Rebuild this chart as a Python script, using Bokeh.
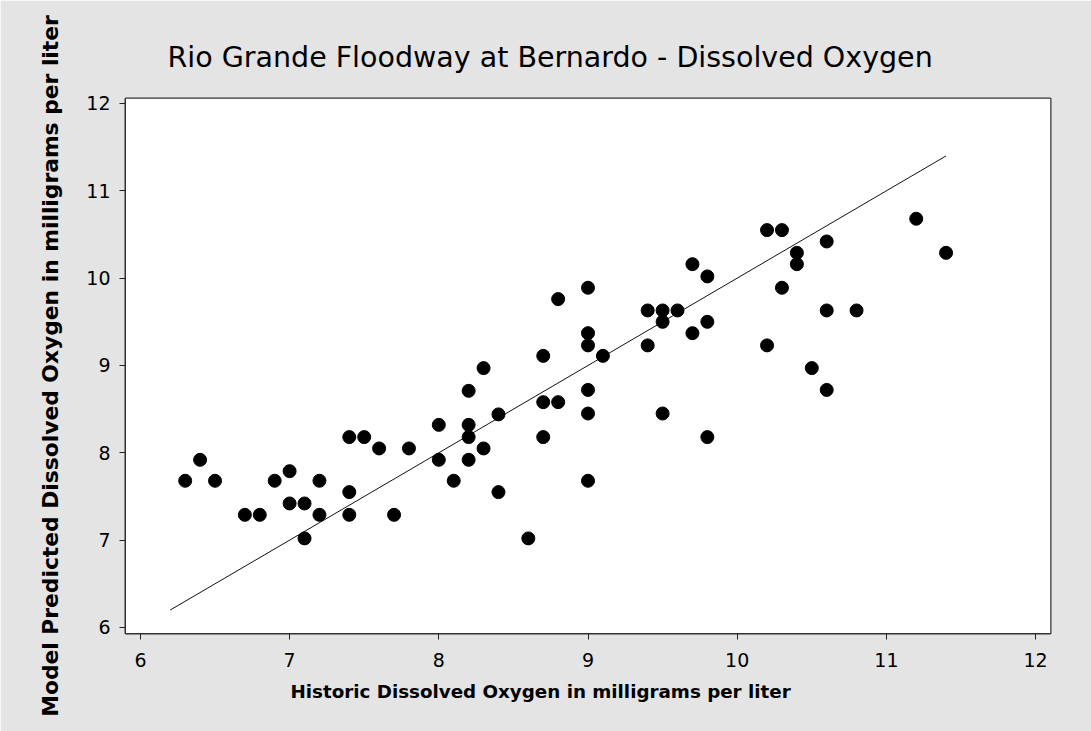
from bokeh.plotting import figure
from bokeh.models import BoxAnnotation, Range1d, FixedTicker, Title
from bokeh.embed import file_html
from bokeh.resources import INLINE

# Data
historic = [6.3, 6.4, 6.5, 6.7, 6.8, 6.9, 7.0, 7.0, 7.1, 7.1, 7.2, 7.2,
            7.4, 7.5, 7.4, 7.4, 7.6, 7.7, 7.8, 8.0, 8.0, 8.1,
            8.2, 8.2, 8.2, 8.2, 8.3, 8.4, 8.4, 8.6, 8.7, 8.7, 8.8,
            8.8, 8.7, 8.3,
            9.0, 9.0, 9.0, 9.1, 9.0, 9.4, 9.5, 9.6, 9.5, 9.4,
            9.7, 9.8, 9.7, 9.8, 10.2, 10.3, 10.4, 10.4, 10.3,
            10.6, 10.6, 10.8, 10.2, 10.5, 10.6, 11.2, 11.4,
            9.0, 9.5, 9.8, 9.0]
predicted = [7.68, 7.92, 7.68, 7.29, 7.29, 7.68, 7.79, 7.42, 7.42, 7.02, 7.68, 7.29,
             8.18, 8.18, 7.55, 7.29, 8.05, 7.29, 8.05, 8.32, 7.92, 7.68,
             8.71, 8.32, 8.18, 7.92, 8.05, 8.44, 7.55, 7.02, 8.58, 8.18, 8.58,
             9.76, 9.11, 8.97,
             9.89, 9.37, 9.23, 9.11, 8.72, 9.63, 9.63, 9.63, 9.50, 9.23,
             10.16, 10.02, 9.37, 9.50, 10.55, 10.55, 10.29, 10.16, 9.89,
             10.42, 9.63, 9.63, 9.23, 8.97, 8.72, 10.68, 10.29,
             8.45, 8.45, 8.18, 7.68]
line_x = [6.2, 11.4]
line_y = [6.2, 11.4]
ticks = [6, 7, 8, 9, 10, 11, 12]

FONT = "DejaVu Sans"

p = figure(width=1091, height=731, output_backend="svg", toolbar_location=None,
           x_range=Range1d(5.9, 12.1), y_range=Range1d(5.931, 12.057),
           min_border_left=125, min_border_right=41, min_border_top=98,
           min_border_bottom=98)

# light grey background outside the plot area (approximates the dotted texture)
p.border_fill_color = "#e4e4e4"
fr = BoxAnnotation(left=5.9, right=12.1, bottom=5.931, top=12.057,
                   fill_color="white", fill_alpha=1.0, line_alpha=0,
                   level="underlay")
p.add_layout(fr)

p.background_fill_color = "white"
p.outline_line_color = "#333333"
p.outline_line_width = 2
p.grid.visible = False

title = Title(text="Rio Grande Floodway at Bernardo - Dissolved Oxygen",
              align="left", offset=42, standoff=50,
              text_font=FONT, text_font_size="28.5px",
              text_font_style="normal", text_color="black")
p.add_layout(title, "above")

for ax in (p.xaxis[0], p.yaxis[0]):
    ax.ticker = FixedTicker(ticks=ticks)
    ax.minor_tick_line_color = None
    ax.major_tick_in = 0
    ax.major_tick_out = 6
    ax.major_tick_line_color = "#222222"
    ax.axis_line_color = "#333333"
    ax.axis_line_width = 1
    ax.major_label_text_font = FONT
    ax.major_label_text_font_size = "19px"
    ax.major_label_text_color = "black"
    ax.axis_label_text_font = FONT
    ax.axis_label_text_font_style = "bold"
    ax.axis_label_text_color = "black"

p.xaxis.major_label_standoff = 13

xlabel = Title(text="Historic Dissolved Oxygen in milligrams per liter",
               align="left", offset=165, standoff=22, vertical_align="top",
               text_font=FONT, text_font_size="18.3px",
               text_font_style="bold", text_color="black")
p.add_layout(xlabel, "below")

p.yaxis.axis_label = "Model Predicted Dissolved Oxygen in milligrams per liter"
p.yaxis.axis_label_text_font_size = "21.8px"
p.yaxis.major_label_standoff = 9
p.yaxis.axis_label_standoff = 20
p.yaxis.major_label_orientation = "horizontal"

p.line(line_x, line_y, line_color="#111111", line_width=1)
p.scatter(historic, predicted, size=13, marker="circle",
          fill_color="black", line_color="black")

open("out.html", "w").write(file_html(p, INLINE))
